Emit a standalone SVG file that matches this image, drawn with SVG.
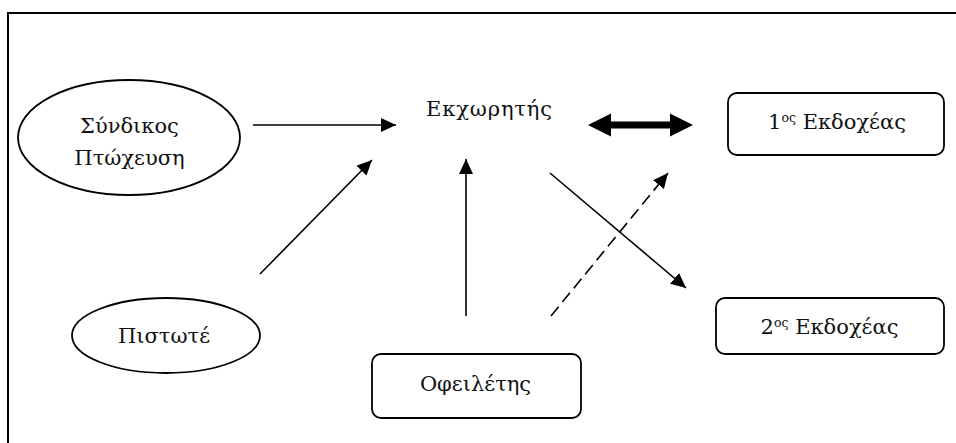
<svg xmlns="http://www.w3.org/2000/svg" width="956" height="443" viewBox="0 0 956 443">
<style>
text{font-family:"DejaVu Serif","Liberation Serif",serif;font-size:21px;fill:#111;text-anchor:middle}
.shape{fill:#fff;stroke:#000;stroke-width:1.8}
.conn{stroke:#000;stroke-width:1.6;fill:none}
.dash{stroke-dasharray:12 6}
.sup{font-size:12.5px}
</style>
<defs>
<marker id="ah" markerUnits="userSpaceOnUse" markerWidth="16" markerHeight="15" refX="15" refY="7" orient="auto">
<path d="M0,0 L15,7 L0,14 z" fill="#000"/>
</marker>
</defs>
<rect x="8" y="13" width="960" height="450" fill="none" stroke="#000" stroke-width="2"/>
<g id="connectors">
<line class="conn" x1="253" y1="125" x2="396" y2="125" marker-end="url(#ah)"/>
<line class="conn" x1="260" y1="274" x2="372" y2="160" marker-end="url(#ah)"/>
<line class="conn" x1="466" y1="316" x2="466" y2="159" marker-end="url(#ah)"/>
<line class="conn" x1="550" y1="173" x2="686" y2="288" marker-end="url(#ah)"/>
<line class="conn dash" x1="551" y1="316" x2="668" y2="173" marker-end="url(#ah)"/>
<polygon points="588,125 611,113.5 611,121.5 670,121.5 670,113.5 693,125 670,136.5 670,128.5 611,128.5 611,136.5" fill="#000"/>
</g>
<g id="syndikos">
<ellipse class="shape" cx="129" cy="137.5" rx="111" ry="57.5"/>
<text x="129.5" y="133">Σύνδικος</text>
<text x="129.5" y="165">Πτώχευση</text>
</g>
<g id="ekchoritis">
<text x="489" y="116" textLength="126" lengthAdjust="spacing">Εκχωρητής</text>
</g>
<g id="ekdocheas1">
<rect class="shape" x="728" y="93" width="216" height="62" rx="9"/>
<text x="837" y="129">1<tspan class="sup" dy="-7">ος</tspan><tspan dy="7"> Εκδοχέας</tspan></text>
</g>
<g id="pistote">
<ellipse class="shape" cx="166" cy="335.5" rx="94" ry="37.5"/>
<text x="164" y="343">Πιστωτέ</text>
</g>
<g id="ekdocheas2">
<rect class="shape" x="716" y="298" width="228" height="56" rx="9"/>
<text x="829.5" y="334">2<tspan class="sup" dy="-7">ος</tspan><tspan dy="7"> Εκδοχέας</tspan></text>
</g>
<g id="ofeiletis">
<rect class="shape" x="372" y="354" width="209" height="64" rx="9"/>
<text x="475.5" y="391">Οφειλέτης</text>
</g>
</svg>
